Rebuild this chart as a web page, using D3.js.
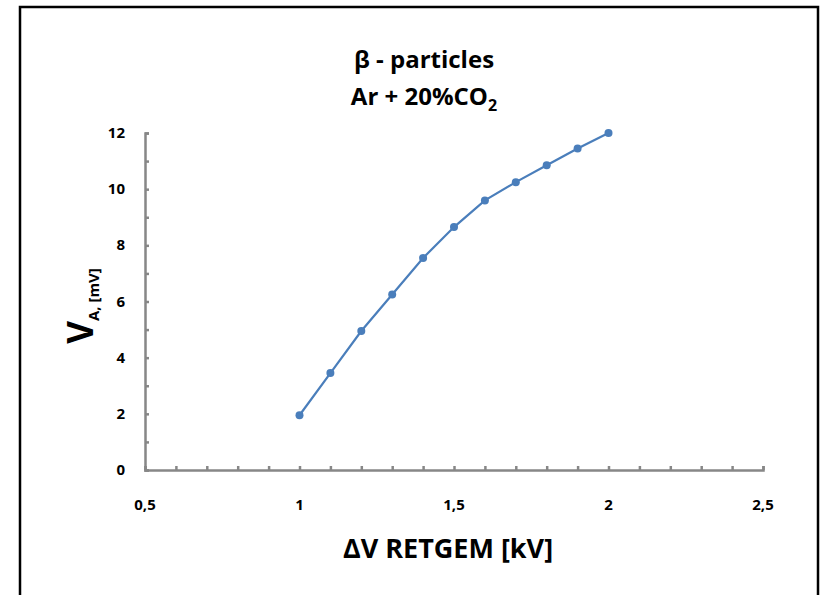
<!DOCTYPE html>
<html>
<head>
<meta charset="utf-8">
<script src="https://cdn.jsdelivr.net/npm/d3@7"></script>
<style>
  body { margin: 0; background: #fff; }
  text { font-family: "Open Sans", "Lato", sans-serif; font-weight: bold; fill: #000; }
</style>
</head>
<body>
<div id="chart"></div>
<script>
// data
const voltage = [1, 1.1, 1.2, 1.3, 1.4, 1.5, 1.6, 1.7, 1.8, 1.9, 2];
const amplitude = [1.95, 3.45, 4.95, 6.25, 7.55, 8.65, 9.6, 10.25, 10.85, 11.45, 12];
const xTicks = [0.5, 1, 1.5, 2, 2.5];
const yTicks = [0, 2, 4, 6, 8, 10, 12];

let width = 821, height = 595;
let margin = { top: 133, bottom: 125, left: 145, right: 58 };

let svg = d3.select('#chart')
  .append('svg')
  .attr('width', width)
  .attr('height', height);

// frame
svg.append('rect')
  .attr('x', 20).attr('y', 7)
  .attr('width', 798).attr('height', 600)
  .attr('fill', 'none')
  .attr('stroke', '#000')
  .attr('stroke-width', 2.5);

let xScale = d3.scaleLinear()
  .domain([0.5, 2.5])
  .range([margin.left, width - margin.right]);

let yScale = d3.scaleLinear()
  .domain([0, 12])
  .range([height - margin.bottom, margin.top]);

const axisColor = '#878787';

// x axis with minor ticks inside
let xAxis = svg.append('g')
  .attr('transform', `translate(0,${height - margin.bottom})`)
  .call(d3.axisBottom(xScale).tickValues(d3.range(0.5, 2.51, 0.1)).tickSize(-4).tickFormat(''));
xAxis.select('.domain').attr('stroke', axisColor).attr('stroke-width', 2.5);
xAxis.selectAll('.tick line').attr('stroke', axisColor).attr('stroke-width', 2.5);

svg.selectAll('.xlab')
  .data(xTicks)
  .enter().append('text')
  .attr('x', d => xScale(d))
  .attr('y', height - margin.bottom + 40)
  .attr('text-anchor', 'middle')
  .style('font-size', '15px')
  .text(d => String(d).replace('.', ','));

// y axis
let yAxis = svg.append('g')
  .attr('transform', `translate(${margin.left},0)`)
  .call(d3.axisLeft(yScale).tickValues(d3.range(0, 13, 1)).tickSize(-4).tickFormat(''));
yAxis.select('.domain').attr('stroke', axisColor).attr('stroke-width', 2.5);
yAxis.selectAll('.tick line').attr('stroke', axisColor).attr('stroke-width', 2.5);

svg.selectAll('.ylab')
  .data(yTicks)
  .enter().append('text')
  .attr('x', margin.left - 20)
  .attr('y', d => yScale(d) + 5)
  .attr('text-anchor', 'end')
  .style('font-size', '15px')
  .text(d => d);

// series
const line = d3.line()
  .x((d, i) => xScale(voltage[i]))
  .y(d => yScale(d));

svg.append('path')
  .datum(amplitude)
  .attr('d', line)
  .attr('fill', 'none')
  .attr('stroke', '#4a7ebb')
  .attr('stroke-width', 2.2);

svg.selectAll('circle')
  .data(amplitude)
  .enter().append('circle')
  .attr('cx', (d, i) => xScale(voltage[i]))
  .attr('cy', d => yScale(d))
  .attr('r', 4)
  .attr('fill', '#4a7ebb');

// title
svg.append('text')
  .attr('x', 424).attr('y', 68)
  .attr('text-anchor', 'middle')
  .style('font-size', '24px')
  .text('β - particles');

let t2 = svg.append('text')
  .attr('x', 424).attr('y', 105)
  .attr('text-anchor', 'middle')
  .style('font-size', '24px');
t2.append('tspan').text('Ar + 20%CO');
t2.append('tspan').attr('dy', 6).style('font-size', '16px').text('2');

// x axis title
svg.append('text')
  .attr('x', 448).attr('y', 558)
  .attr('text-anchor', 'middle')
  .style('font-size', '27px')
  .text('ΔV RETGEM [kV]');

// y axis title
let yt = svg.append('text')
  .attr('transform', 'translate(93,306) rotate(-90)')
  .attr('text-anchor', 'middle');
yt.append('tspan').style('font-size', '35px').text('V');
yt.append('tspan').attr('dy', 6).style('font-size', '15px').text('A, [mV]');
</script>
</body>
</html>
